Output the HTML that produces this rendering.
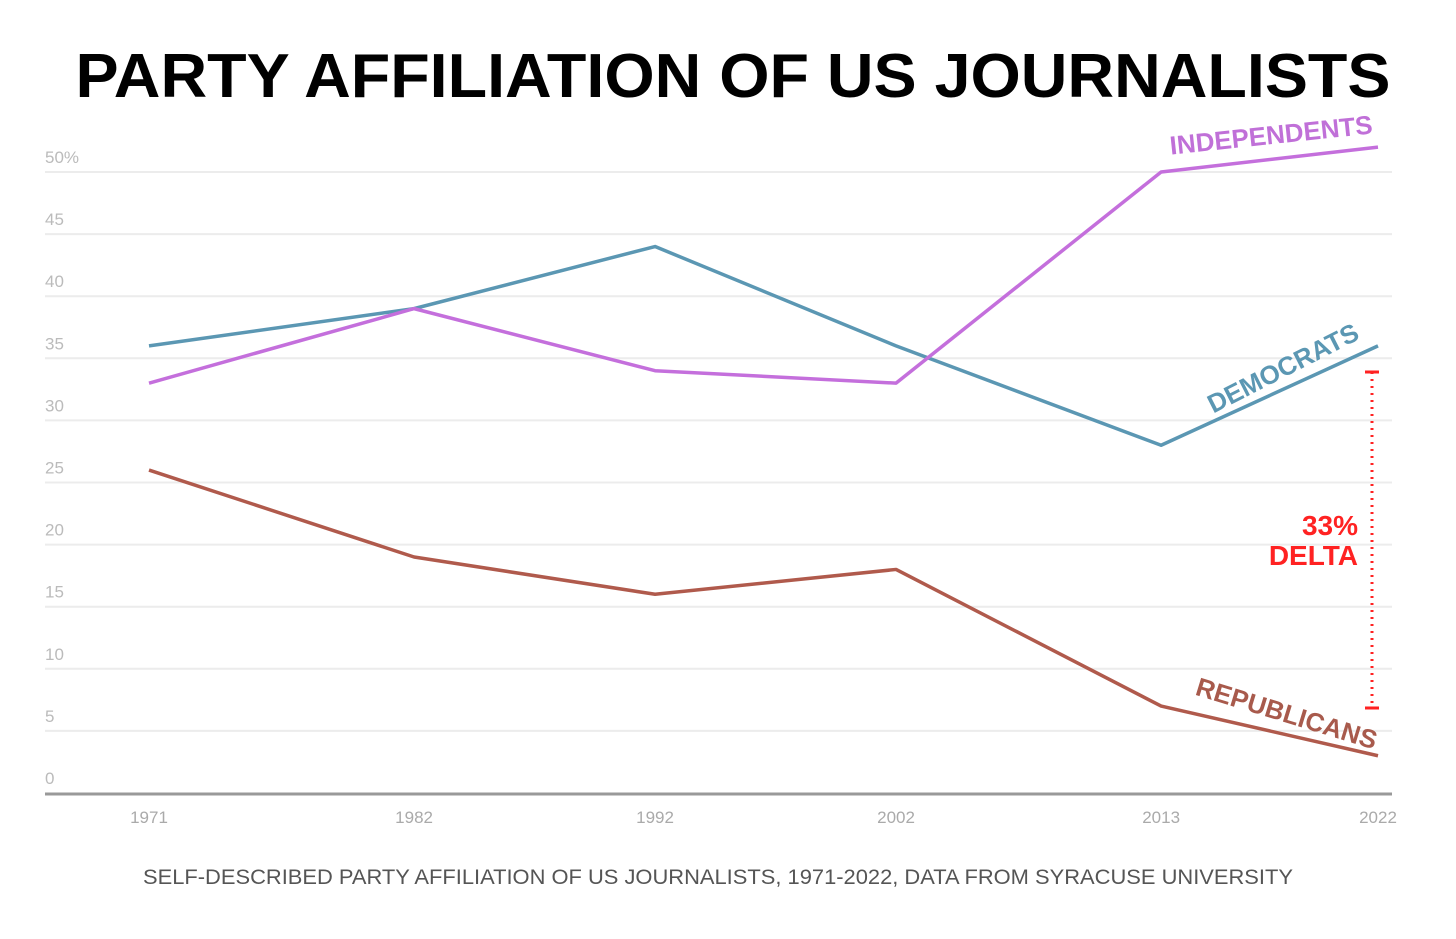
<!DOCTYPE html>
<html><head><meta charset="utf-8"><style>
body{margin:0;background:#fff;width:1456px;height:934px;overflow:hidden;font-family:"Liberation Sans",sans-serif}
</style></head><body>
<svg width="1456" height="934" viewBox="0 0 1456 934">
<text x="733" y="97" text-anchor="middle" font-size="62" font-weight="bold" fill="#000" textLength="1315" lengthAdjust="spacingAndGlyphs">PARTY AFFILIATION OF US JOURNALISTS</text>
<g id="grid"></g><g id="lines"></g>
<text x="718" y="884" text-anchor="middle" font-size="21" fill="#555" textLength="1150" lengthAdjust="spacingAndGlyphs">SELF-DESCRIBED PARTY AFFILIATION OF US JOURNALISTS, 1971-2022, DATA FROM SYRACUSE UNIVERSITY</text>
<text transform="translate(1272,144) rotate(-6)" text-anchor="middle" font-size="26" font-weight="bold" fill="#c070d8">INDEPENDENTS</text>
<text transform="translate(1287,376) rotate(-27)" text-anchor="middle" font-size="26" font-weight="bold" fill="#5b97b3">DEMOCRATS</text>
<text transform="translate(1284,722) rotate(17)" text-anchor="middle" font-size="26" font-weight="bold" fill="#a85a4c">REPUBLICANS</text>
<g>
<line x1="1372" y1="372" x2="1372" y2="708" stroke="#f22" stroke-width="3" stroke-dasharray="2,5"/>
<line x1="1365" y1="372" x2="1379" y2="372" stroke="#f22" stroke-width="3"/>
<line x1="1365" y1="708" x2="1379" y2="708" stroke="#f22" stroke-width="3"/>
<text x="1358" y="535" text-anchor="end" font-size="28" font-weight="bold" fill="#f22">33%</text>
<text x="1358" y="565" text-anchor="end" font-size="28" font-weight="bold" fill="#f22">DELTA</text>
</g>
</svg>
<script>
const years=[1971,1982,1992,2002,2013,2022];
const democrats=[36,39,44,36,28,36];
const independents=[33,39,34,33,50,52];
const republicans=[26,19,16,18,7,3];
const yTicks=[0,5,10,15,20,25,30,35,40,45,50];
const yTickLabels=["0","5","10","15","20","25","30","35","40","45","50%"];
const ns="http://www.w3.org/2000/svg";
const x=v=>149+(v-1971)*(1378-149)/(2022-1971);
const y=v=>793-v*12.42;
const grid=document.getElementById('grid'),lines=document.getElementById('lines');
function mk(t,a,p){const e=document.createElementNS(ns,t);for(const k in a)e.setAttribute(k,a[k]);p.appendChild(e);return e;}
yTicks.forEach((t,i)=>{
 if(t>0){const g=mk('line',{x1:45,x2:1392,y1:y(t),y2:y(t),stroke:'#ececec','stroke-width':2},grid);
 
 }
 const l=mk('text',{x:45,y:y(t)-9,'font-size':17,fill:'#bbb'},grid);l.textContent=yTickLabels[i];
 
 
});
const ax=mk('line',{x1:45,x2:1392,y1:794,y2:794,stroke:'#999','stroke-width':3},grid);


years.forEach(yr=>{const l=mk('text',{x:x(yr),y:823,'font-size':17,fill:'#aaa','text-anchor':'middle'},grid);l.textContent=yr;
 
 });
[[democrats,'#5b97b3','democrats-line'],[independents,'#c46fdc','independents-line'],[republicans,'#b05a4c','republicans-line']].forEach(([d,c,n])=>{
 const p=mk('polyline',{points:d.map((v,i)=>x(years[i])+','+y(v)).join(' '),fill:'none',stroke:c,'stroke-width':3.5,'stroke-linejoin':'round'},lines);
 
 
});
</script>
</body></html>
